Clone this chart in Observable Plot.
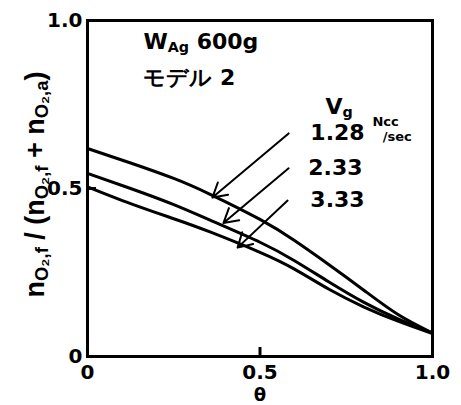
<!DOCTYPE html>
<html>
<head>
<meta charset="utf-8">
<script src="https://cdn.jsdelivr.net/npm/d3@7"></script>
<script src="https://cdn.jsdelivr.net/npm/@observablehq/plot@0.6"></script>
<style>
  html, body { margin: 0; padding: 0; background: #fff; }
</style>
</head>
<body>
<div id="chart"></div>
<script>
// θ values (x) and three series of n_O2,f / (n_O2,f + n_O2,a)
const theta = [0, 0.125, 0.25, 0.357, 0.5, 0.6, 0.7, 0.8, 0.9, 1.0];
const vg128 = [0.619, 0.576, 0.530, 0.482, 0.408, 0.345, 0.273, 0.198, 0.125, 0.07];
const vg233 = [0.545, 0.500, 0.452, 0.405, 0.340, 0.285, 0.222, 0.162, 0.112, 0.07];
const vg333 = [0.505, 0.455, 0.410, 0.370, 0.310, 0.260, 0.200, 0.148, 0.105, 0.068];
const vgLabels = ["1.28", "2.33", "3.33"];

// ticks
const xTicks = [0, 0.5, 1.0];
const yTicks = [0, 0.5, 1.0];
const tickLabel = d => d === 0 ? "0" : d.toFixed(1);

// arrows from labels to curves
const arrowX1 = [0.583, 0.583, 0.580];
const arrowY1 = [0.664, 0.560, 0.464];
const arrowX2 = [0.362, 0.394, 0.435];
const arrowY2 = [0.473, 0.397, 0.324];

// annotation texts
const annX = [0.162, 0.162, 0.69, 0.646, 0.64, 0.646];
const annY = [0.935, 0.828, 0.744, 0.664, 0.560, 0.467];
const annText = ["W_Ag 600g", "モデル 2", "Vg", vgLabels[0], vgLabels[1], vgLabels[2]];
const unitText = ["Ncc", "/sec"];
const unitX = [0.826, 0.856];
const unitY = [0.697, 0.655];

const series = [vg128, vg233, vg333];
const lineData = series.flatMap((vals, s) =>
  theta.map((t, i) => ({theta: t, ratio: vals[i], vg: vgLabels[s]})));
const arrows = arrowX1.map((_, i) => ({x1: arrowX1[i], y1: arrowY1[i], x2: arrowX2[i], y2: arrowY2[i]}));
const ann = annText.map((t, i) => ({x: annX[i], y: annY[i], t}));
const units = unitText.map((t, i) => ({x: unitX[i], y: unitY[i], t}));

const font = "DejaVu Sans";

const chart = Plot.plot({
  width: 461,
  height: 405,
  marginLeft: 87,
  marginRight: 29,
  marginTop: 20,
  marginBottom: 49,
  style: {fontFamily: font, fontWeight: "bold", color: "#000", background: "#fff"},
  x: {domain: [0, 1]},
  y: {domain: [0, 1]},
  marks: [
    Plot.axisX(xTicks, {tickSize: 0, tickPadding: 8, fontSize: 20, tickFormat: tickLabel, label: null}),
    Plot.axisY(yTicks, {tickSize: 0, tickPadding: 5, fontSize: 20, tickFormat: tickLabel, label: null}),
    Plot.ruleX([0.5], {insetTop: 336 - 9, strokeWidth: 3}),
    Plot.ruleY([0.5], {insetRight: 345 - 9, strokeWidth: 3}),
    Plot.line(lineData, {x: "theta", y: "ratio", z: "vg", curve: "natural", stroke: "#000", strokeWidth: 3}),
    Plot.arrow(arrows, {x1: "x1", y1: "y1", x2: "x2", y2: "y2", stroke: "#000", strokeWidth: 2, headLength: 12}),
    Plot.text(ann, {x: "x", y: "y", text: "t", textAnchor: "start", fontSize: 22, fill: "#000", className: "ann"}),
    Plot.text(units, {x: "x", y: "y", text: "t", textAnchor: "start", fontSize: 13, fill: "#000"}),
    Plot.text(["θ"], {frameAnchor: "bottom", dy: 44, fontSize: 18, fill: "#000"}),
    Plot.text(["ylabel"], {frameAnchor: "left", textAnchor: "middle", dx: -52, dy: -4, rotate: -90, fontSize: 27,
                           fill: "#000", fontFamily: "Liberation Sans", className: "ylab"}),
    Plot.frame({stroke: "#000", strokeWidth: 3})
  ]
});

document.getElementById("chart").appendChild(chart);

// subscripts
const svg = d3.select(chart);
function setParts(textEl, parts, scale) {
  const t = d3.select(textEl);
  t.text(null);
  for (const [s, sub] of parts) {
    const ts = t.append("tspan").text(s);
    if (sub) ts.attr("font-size", scale).attr("baseline-shift", "-20%");
  }
}
svg.selectAll("g.ylab text").each(function() {
  setParts(this, [["n", false], ["O₂,f", true], [" / (", false], ["n", false], ["O₂,f", true],
                  [" + n", false], ["O₂,a", true], [")", false]], "68%");
});
svg.selectAll("g.ann text").each(function() {
  const s = d3.select(this).text();
  if (s === "W_Ag 600g") setParts(this, [["W", false], ["Ag", true], [" 600g", false]], "65%");
  else if (s === "Vg") setParts(this, [["V", false], ["g", true]], "65%");
});
</script>
</body>
</html>
